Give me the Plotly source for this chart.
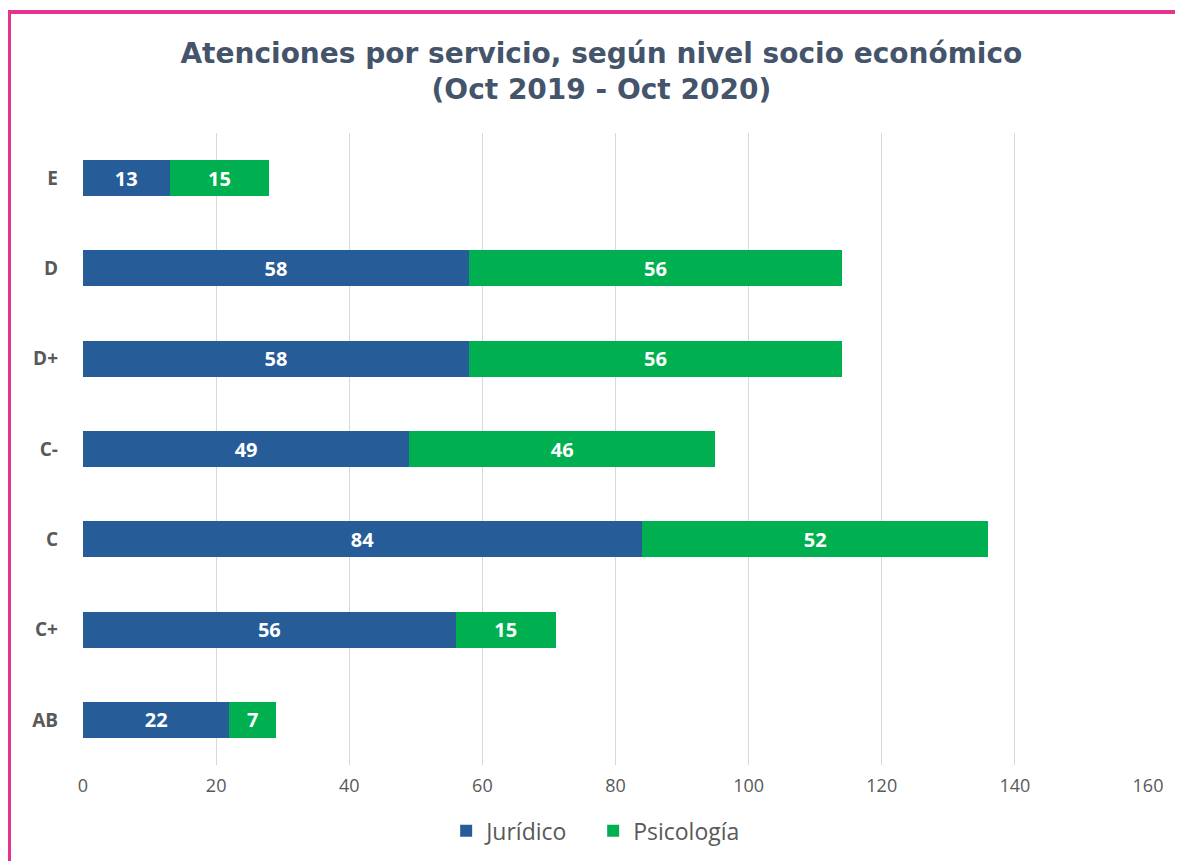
import plotly.graph_objects as go

# ─── data ───
niveles = ["AB", "C+", "C", "C-", "D+", "D", "E"]
juridico = [22, 56, 84, 49, 58, 58, 13]
psicologia = [7, 15, 52, 46, 56, 56, 15]

x_ticks = [0, 20, 40, 60, 80, 100, 120, 140, 160]

# page body has an 8px margin, so the figure is sized/offset for that
OFF = 8
W, H = 1183 - OFF, 861 - OFF
ML, MR, MT, MB = 75, 35, 125, 96
pw, ph = W - ML - MR, H - MT - MB

label_font = dict(color="white", size=20, family="Open Sans", weight="bold")

fig = go.Figure()

fig.add_trace(go.Bar(
    name="Jurídico", y=niveles, x=juridico, orientation="h",
    marker=dict(color="#265C98", line=dict(width=0)),
    text=juridico, textposition="inside", insidetextanchor="middle",
    textfont=label_font,
))
fig.add_trace(go.Bar(
    name="Psicología", y=niveles, x=psicologia, orientation="h",
    marker=dict(color="#00B050", line=dict(width=0)),
    text=psicologia, textposition="inside", insidetextanchor="middle",
    textfont=label_font,
))

# pink frame (only left + top edges fall inside the picture)
def px_x(p):
    return (p - OFF - ML) / pw

def px_y(p):
    return (H - MB - (p - OFF)) / ph

fig.add_shape(type="rect", xref="paper", yref="paper",
              x0=px_x(9), x1=px_x(1183 + 40), y0=px_y(861 + 40), y1=px_y(12),
              line=dict(color="#E6338F", width=4), fillcolor="rgba(0,0,0,0)",
              layer="above")

fig.update_layout(
    width=W, height=H,
    margin=dict(l=ML, r=MR, t=MT, b=MB, autoexpand=False),
    paper_bgcolor="white", plot_bgcolor="white",
    barmode="stack", bargap=0.6,
    title=dict(
        text="Atenciones por servicio, según nivel socio económico<br>(Oct 2019 - Oct 2020)",
        x=0.505, xanchor="center", yref="container", y=1 - 55 / H, yanchor="top",
        font=dict(family="DejaVu Sans", size=28, color="#44546A", weight="bold"),
    ),
    xaxis=dict(
        range=[0, 160], tickvals=x_ticks, showgrid=True, gridcolor="#D9D9D9",
        gridwidth=1, zeroline=False, showline=False, ticks="", automargin=False,
        ticklabelstandoff=8,
        tickfont=dict(family="Open Sans", size=18, color="#595959"),
    ),
    yaxis=dict(
        showgrid=False, zeroline=False, showline=False, ticks="", automargin=False,
        ticklabelstandoff=24,
        tickfont=dict(family="Open Sans", size=19, color="#595959", weight="bold"),
    ),
    legend=dict(
        orientation="h", x=0.341, xanchor="left", y=-0.07, yanchor="top",
        entrywidth=102,
        font=dict(family="Open Sans", size=23, color="#595959"),
        traceorder="normal",
    ),
    font=dict(family="Open Sans"),
    showlegend=True,
)

fig.write_html("out.html")
